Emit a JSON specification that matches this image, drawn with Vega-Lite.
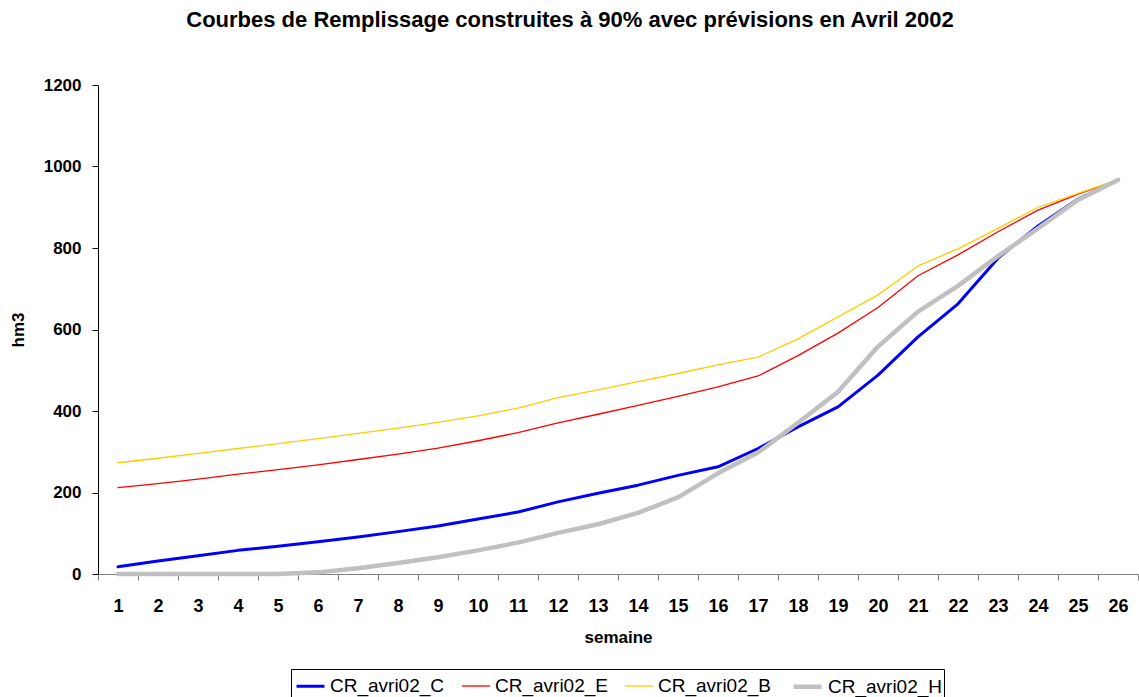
{
  "$schema": "https://vega.github.io/schema/vega-lite/v6.json",
  "autosize": {"type": "none"},
  "padding": {"left": 98, "top": 85, "right": 1, "bottom": 123},
  "width": 1040,
  "height": 489,
  "background": "white",
  "config": {
    "font": "Liberation Sans",
    "view": {"stroke": null},
    "title": {"font": "Liberation Sans", "fontSize": 22, "fontWeight": "bold", "color": "#000"}
  },
  "title": {"text": "Courbes de Remplissage construites à 90% avec prévisions en Avril 2002", "anchor": "middle", "dx": -48, "offset": 44},
  "data": {"values": [
    {"semaine": 1, "series": "CR_avri02_C", "hm3": 18},
    {"semaine": 2, "series": "CR_avri02_C", "hm3": 32},
    {"semaine": 3, "series": "CR_avri02_C", "hm3": 45},
    {"semaine": 4, "series": "CR_avri02_C", "hm3": 58},
    {"semaine": 5, "series": "CR_avri02_C", "hm3": 68},
    {"semaine": 6, "series": "CR_avri02_C", "hm3": 79},
    {"semaine": 7, "series": "CR_avri02_C", "hm3": 91},
    {"semaine": 8, "series": "CR_avri02_C", "hm3": 104},
    {"semaine": 9, "series": "CR_avri02_C", "hm3": 118},
    {"semaine": 10, "series": "CR_avri02_C", "hm3": 135},
    {"semaine": 11, "series": "CR_avri02_C", "hm3": 152},
    {"semaine": 12, "series": "CR_avri02_C", "hm3": 177},
    {"semaine": 13, "series": "CR_avri02_C", "hm3": 198},
    {"semaine": 14, "series": "CR_avri02_C", "hm3": 218},
    {"semaine": 15, "series": "CR_avri02_C", "hm3": 242},
    {"semaine": 16, "series": "CR_avri02_C", "hm3": 263},
    {"semaine": 17, "series": "CR_avri02_C", "hm3": 308},
    {"semaine": 18, "series": "CR_avri02_C", "hm3": 361},
    {"semaine": 19, "series": "CR_avri02_C", "hm3": 410},
    {"semaine": 20, "series": "CR_avri02_C", "hm3": 488},
    {"semaine": 21, "series": "CR_avri02_C", "hm3": 582},
    {"semaine": 22, "series": "CR_avri02_C", "hm3": 663},
    {"semaine": 23, "series": "CR_avri02_C", "hm3": 775},
    {"semaine": 24, "series": "CR_avri02_C", "hm3": 854},
    {"semaine": 25, "series": "CR_avri02_C", "hm3": 920},
    {"semaine": 26, "series": "CR_avri02_C", "hm3": 967},
    {"semaine": 1, "series": "CR_avri02_E", "hm3": 212},
    {"semaine": 2, "series": "CR_avri02_E", "hm3": 222},
    {"semaine": 3, "series": "CR_avri02_E", "hm3": 233},
    {"semaine": 4, "series": "CR_avri02_E", "hm3": 245},
    {"semaine": 5, "series": "CR_avri02_E", "hm3": 256},
    {"semaine": 6, "series": "CR_avri02_E", "hm3": 268},
    {"semaine": 7, "series": "CR_avri02_E", "hm3": 281},
    {"semaine": 8, "series": "CR_avri02_E", "hm3": 294},
    {"semaine": 9, "series": "CR_avri02_E", "hm3": 309},
    {"semaine": 10, "series": "CR_avri02_E", "hm3": 327},
    {"semaine": 11, "series": "CR_avri02_E", "hm3": 347},
    {"semaine": 12, "series": "CR_avri02_E", "hm3": 371},
    {"semaine": 13, "series": "CR_avri02_E", "hm3": 392},
    {"semaine": 14, "series": "CR_avri02_E", "hm3": 414},
    {"semaine": 15, "series": "CR_avri02_E", "hm3": 436},
    {"semaine": 16, "series": "CR_avri02_E", "hm3": 459},
    {"semaine": 17, "series": "CR_avri02_E", "hm3": 486},
    {"semaine": 18, "series": "CR_avri02_E", "hm3": 536},
    {"semaine": 19, "series": "CR_avri02_E", "hm3": 591},
    {"semaine": 20, "series": "CR_avri02_E", "hm3": 654},
    {"semaine": 21, "series": "CR_avri02_E", "hm3": 732},
    {"semaine": 22, "series": "CR_avri02_E", "hm3": 783},
    {"semaine": 23, "series": "CR_avri02_E", "hm3": 840},
    {"semaine": 24, "series": "CR_avri02_E", "hm3": 893},
    {"semaine": 25, "series": "CR_avri02_E", "hm3": 932},
    {"semaine": 26, "series": "CR_avri02_E", "hm3": 967},
    {"semaine": 1, "series": "CR_avri02_B", "hm3": 273},
    {"semaine": 2, "series": "CR_avri02_B", "hm3": 284},
    {"semaine": 3, "series": "CR_avri02_B", "hm3": 296},
    {"semaine": 4, "series": "CR_avri02_B", "hm3": 308},
    {"semaine": 5, "series": "CR_avri02_B", "hm3": 320},
    {"semaine": 6, "series": "CR_avri02_B", "hm3": 332},
    {"semaine": 7, "series": "CR_avri02_B", "hm3": 345},
    {"semaine": 8, "series": "CR_avri02_B", "hm3": 358},
    {"semaine": 9, "series": "CR_avri02_B", "hm3": 372},
    {"semaine": 10, "series": "CR_avri02_B", "hm3": 388},
    {"semaine": 11, "series": "CR_avri02_B", "hm3": 407},
    {"semaine": 12, "series": "CR_avri02_B", "hm3": 433},
    {"semaine": 13, "series": "CR_avri02_B", "hm3": 452},
    {"semaine": 14, "series": "CR_avri02_B", "hm3": 472},
    {"semaine": 15, "series": "CR_avri02_B", "hm3": 492},
    {"semaine": 16, "series": "CR_avri02_B", "hm3": 513},
    {"semaine": 17, "series": "CR_avri02_B", "hm3": 532},
    {"semaine": 18, "series": "CR_avri02_B", "hm3": 577},
    {"semaine": 19, "series": "CR_avri02_B", "hm3": 631},
    {"semaine": 20, "series": "CR_avri02_B", "hm3": 685},
    {"semaine": 21, "series": "CR_avri02_B", "hm3": 756},
    {"semaine": 22, "series": "CR_avri02_B", "hm3": 798},
    {"semaine": 23, "series": "CR_avri02_B", "hm3": 848},
    {"semaine": 24, "series": "CR_avri02_B", "hm3": 900},
    {"semaine": 25, "series": "CR_avri02_B", "hm3": 934},
    {"semaine": 26, "series": "CR_avri02_B", "hm3": 967},
    {"semaine": 1, "series": "CR_avri02_H", "hm3": 0},
    {"semaine": 2, "series": "CR_avri02_H", "hm3": 0},
    {"semaine": 3, "series": "CR_avri02_H", "hm3": 0},
    {"semaine": 4, "series": "CR_avri02_H", "hm3": 0},
    {"semaine": 5, "series": "CR_avri02_H", "hm3": 0},
    {"semaine": 6, "series": "CR_avri02_H", "hm3": 4},
    {"semaine": 7, "series": "CR_avri02_H", "hm3": 14},
    {"semaine": 8, "series": "CR_avri02_H", "hm3": 27},
    {"semaine": 9, "series": "CR_avri02_H", "hm3": 41},
    {"semaine": 10, "series": "CR_avri02_H", "hm3": 58},
    {"semaine": 11, "series": "CR_avri02_H", "hm3": 77},
    {"semaine": 12, "series": "CR_avri02_H", "hm3": 101},
    {"semaine": 13, "series": "CR_avri02_H", "hm3": 122},
    {"semaine": 14, "series": "CR_avri02_H", "hm3": 150},
    {"semaine": 15, "series": "CR_avri02_H", "hm3": 188},
    {"semaine": 16, "series": "CR_avri02_H", "hm3": 247},
    {"semaine": 17, "series": "CR_avri02_H", "hm3": 298},
    {"semaine": 18, "series": "CR_avri02_H", "hm3": 371},
    {"semaine": 19, "series": "CR_avri02_H", "hm3": 447},
    {"semaine": 20, "series": "CR_avri02_H", "hm3": 558},
    {"semaine": 21, "series": "CR_avri02_H", "hm3": 644},
    {"semaine": 22, "series": "CR_avri02_H", "hm3": 707},
    {"semaine": 23, "series": "CR_avri02_H", "hm3": 780},
    {"semaine": 24, "series": "CR_avri02_H", "hm3": 848},
    {"semaine": 25, "series": "CR_avri02_H", "hm3": 918},
    {"semaine": 26, "series": "CR_avri02_H", "hm3": 967}
  ]},
  "mark": {"type": "line", "strokeJoin": "round", "strokeCap": "round"},
  "encoding": {
    "x": {
      "field": "semaine", "type": "ordinal", "sort": null,
      "scale": {"type": "band", "paddingInner": 0, "paddingOuter": 0},
      "axis": {
        "title": "semaine", "titleFontSize": 17, "titleFontWeight": "bold", "titleColor": "#000", "titlePadding": 14,
        "labelAngle": 0, "labelFontSize": 18, "labelFontWeight": "bold", "labelColor": "#000", "labelPadding": 17,
        "tickBand": "extent", "tickSize": 6, "tickColor": "#808080", "domainColor": "#808080", "grid": false
      }
    },
    "y": {
      "field": "hm3", "type": "quantitative",
      "scale": {"domain": [0, 1200], "nice": false, "zero": true},
      "axis": {
        "title": "hm3", "titleFontSize": 17, "titleFontWeight": "bold", "titleColor": "#000", "titlePadding": 16,
        "values": [0, 200, 400, 600, 800, 1000, 1200], "format": "d",
        "labelFontSize": 17, "labelFontWeight": "bold", "labelColor": "#000", "labelPadding": 11,
        "tickSize": 6, "tickColor": "#000", "domainColor": "#000", "grid": false
      }
    },
    "color": {
      "field": "series", "type": "nominal",
      "scale": {"domain": ["CR_avri02_C", "CR_avri02_E", "CR_avri02_B", "CR_avri02_H"], "range": ["#0000FF", "#FF0000", "#FFCC00", "#C0C0C0"]},
      "legend": {
        "title": null, "orient": "none", "direction": "horizontal", "legendX": 193, "legendY": 584,
        "symbolType": "stroke", "symbolSize": 784, "symbolOffset": 3, "labelFontSize": 19, "labelColor": "#000", "labelOffset": 4,
        "columnPadding": 13, "padding": 1, "strokeColor": "#000", "fillColor": "#fff"
      }
    },
    "strokeWidth": {
      "field": "series", "type": "nominal",
      "scale": {"type": "ordinal", "domain": ["CR_avri02_C", "CR_avri02_E", "CR_avri02_B", "CR_avri02_H"], "range": [3, 1.3, 1.3, 4.5]},
      "legend": {
        "title": null, "orient": "none", "direction": "horizontal", "legendX": 193, "legendY": 584,
        "symbolType": "stroke", "symbolSize": 784, "symbolOffset": 3, "labelFontSize": 19, "labelColor": "#000", "labelOffset": 4,
        "columnPadding": 13, "padding": 1, "strokeColor": "#000", "fillColor": "#fff"
      }
    }
  }
}
